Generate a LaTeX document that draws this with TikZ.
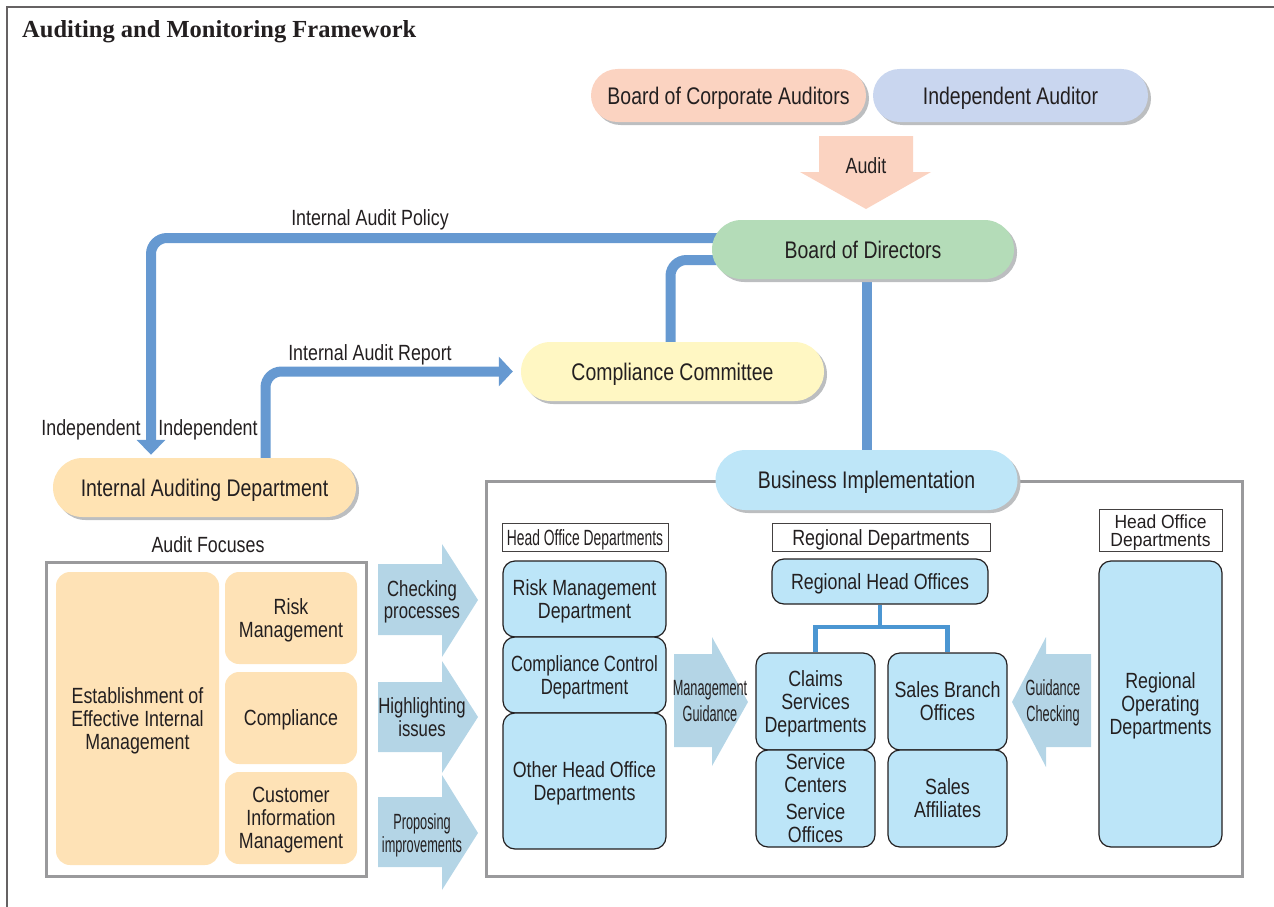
\documentclass[tikz,border=0pt]{standalone}
\usepackage{fontspec}
\setmainfont{Liberation Sans}[FakeStretch=0.81]
\newfontfamily\titlefont{Liberation Serif}
\newfontfamily\semifont{Liberation Sans}[FakeStretch=0.76]
\newfontfamily\narrowfont{Liberation Sans}[FakeStretch=0.58]
\newfontfamily\tagfont{Liberation Sans}[FakeStretch=0.63]
\newfontfamily\plainfont{Liberation Sans}[FakeStretch=0.92]
\usepackage{tikz}
\usetikzlibrary{positioning}
\usetikzlibrary{shapes.misc}
\usetikzlibrary{arrows.meta}
\usetikzlibrary{shadows}
\usetikzlibrary{backgrounds}

% several lines, caps centred on the node
\newcommand{\boxlines}[1]{\raisebox{-3.3pt}[\height][\depth]{\begin{tabular}{@{}c@{}}#1\end{tabular}}}

\definecolor{ink}{HTML}{231F20}
\definecolor{peach}{HTML}{FBD3C1}
\definecolor{lilac}{HTML}{C9D6EF}
\definecolor{mint}{HTML}{B4DCB8}
\definecolor{lemon}{HTML}{FFF7C3}
\definecolor{apricot}{HTML}{FFE3B3}
\definecolor{sky}{HTML}{BEE6F8}
\definecolor{boxblue}{HTML}{BCE5F8}
\definecolor{focusfill}{HTML}{FEE2B6}
\definecolor{pale}{HTML}{B4D5E6}
\definecolor{linkblue}{HTML}{6699D1}
\definecolor{treeblue}{HTML}{4B96D2}
\definecolor{framegray}{HTML}{9A9A9C}
\definecolor{shade}{HTML}{BCBEC0}

\tikzset{
  % struts so that the caps sit in the middle of a node
  cap24/.style = {execute at begin node={\rule{0pt}{23pt}}, execute at end node={\rule[-6pt]{0pt}{6pt}}},
  cap22/.style = {execute at begin node={\rule{0pt}{22pt}}, execute at end node={\rule[-6.3pt]{0pt}{6.3pt}}},
  pill/.style = {rounded rectangle, minimum height=59pt, inner sep=0pt, text=ink, cap24,
    font=\fontsize{24}{26}\selectfont,
    drop shadow={shadow xshift=3pt, shadow yshift=-3pt, fill=shade, opacity=1}},
  dept/.style = {draw=ink, line width=1.2pt, fill=boxblue, rounded corners=12pt, cap22,
    inner sep=0pt, align=center, text=ink, font=\fontsize{22}{23}\selectfont},
  focus/.style = {fill=focusfill, rounded corners=14pt, inner sep=0pt, align=center, cap22,
    text=ink, font=\fontsize{22}{23}\selectfont},
  tag/.style = {draw=ink!85, line width=1pt, fill=white, inner sep=0pt, align=center, cap22,
    text=ink, font=\fontsize{22}{23}\selectfont},
  lbl/.style = {inner sep=0pt, align=center, text=ink, cap22, font=\fontsize{22}{23}\selectfont},
  link/.style = {line width=10pt, draw=linkblue, rounded corners=16pt},
  tree/.style = {line width=4.5pt, draw=treeblue},
  frame/.style = {draw=framegray, line width=3pt},
}

\begin{document}
\begin{tikzpicture}[x=1pt, y=-1pt]
    \useasboundingbox (0,0) rectangle (1274,907);
    \draw[ink!70, line width=1.5pt] (7,907) -- (7,7) -- (1274,7);
    \node[anchor=base west, inner sep=0pt, text=ink, font={\titlefont\bfseries\fontsize{24.5}{26}\selectfont}] (title) at (22,38) {Auditing and Monitoring Framework};

    % frames
    \draw[frame] (46.5,562.5) rectangle (366.5,876.5);
    \draw[frame] (486.5,481.5) rectangle (1242.5,876.5);

    % top of the chart
    \node[pill, fill=peach, minimum width=275pt, minimum height=53pt] (bca) at (728.5,95.5) {Board of Corporate Auditors};
    \node[pill, fill=lilac, minimum width=275pt, minimum height=53pt] (ia) at (1010.5,95.5) {Independent Auditor};
    \fill[peach] (819,136) -- (913,136) -- (913,172) -- (931,172) -- (866,209) -- (800,172) -- (819,172) -- cycle;
    \node[lbl] (audit) at (866,166) {Audit};
    \node[pill, fill=mint, minimum width=302pt] (bod) at (863,249.5) {Board of Directors};
    \node[pill, fill=lemon, minimum width=303pt] (cc) at (672.5,371.5) {Compliance Committee};
    \node[pill, fill=apricot, minimum width=303pt] (iad) at (204.5,487.5) {Internal Auditing Department};
    \node[pill, fill=sky, minimum width=302pt, minimum height=60pt] (bi) at (866.5,480) {Business Implementation};

    \node[lbl] (policy) at (370,218) {Internal Audit Policy};
    \node[lbl] (report) at (370,353) {Internal Audit Report};
    \node[lbl] (indl) at (91,428) {Independent};
    \node[lbl] (indr) at (208,428) {Independent};

    % audit focuses
    \node[lbl] (focuses) at (208,545) {Audit Focuses};
    \node[focus, minimum width=163pt, minimum height=293pt] (eim) at (137.5,718.5) {\boxlines{Establishment of\\Effective Internal\\Management}};
    \node[focus, minimum width=132pt, minimum height=92pt] (rm) at (291,618) {\boxlines{Risk\\Management}};
    \node[focus, minimum width=132pt, minimum height=92pt] (comp) at (291,718) {Compliance};
    \node[focus, minimum width=132pt, minimum height=92pt] (cim) at (291,818) {\boxlines{Customer\\Information\\Management}};

    \fill[pale] (378,564) -- (442,564) -- (442,544) -- (478,600) -- (442,657) -- (442,635) -- (378,635) -- cycle;
    \fill[pale] (378,682) -- (442,682) -- (442,661) -- (478,717) -- (442,773) -- (442,752) -- (378,752) -- cycle;
    \fill[pale] (378,797) -- (442,797) -- (442,775) -- (478,833) -- (442,890) -- (442,867) -- (378,867) -- cycle;
    \node[lbl, font=\semifont\fontsize{22}{22}\selectfont] (check) at (422,600) {\boxlines{Checking\\processes}};
    \node[lbl, font=\semifont\fontsize{22}{23}\selectfont] (highl) at (422,717.5) {\boxlines{Highlighting\\issues}};
    \node[lbl, font=\narrowfont\fontsize{22}{23}\selectfont] (propose) at (422,833.5) {\boxlines{Proposing\\improvements}};

    % head office departments
    \node[tag, font=\tagfont\fontsize{22}{23}\selectfont, minimum width=166pt, minimum height=27pt] (hodl) at (585,537.5) {Head Office Departments};
    \node[dept, minimum width=163pt, minimum height=76pt] (rmd) at (584.5,599) {\boxlines{Risk Management\\Department}};
    \node[dept, font=\semifont\fontsize{22}{23}\selectfont, minimum width=163pt, minimum height=76pt] (ccd) at (584.5,675) {\boxlines{Compliance Control\\Department}};
    \node[dept, minimum width=163pt, minimum height=136pt] (ohd) at (584.5,781) {\boxlines{Other Head Office\\Departments}};

    \fill[pale] (674,654) -- (712,654) -- (712,637) -- (748,702) -- (712,766) -- (712,747) -- (674,747) -- cycle;
    \node[lbl, font=\narrowfont\fontsize{22}{26}\selectfont] (mguide) at (710,699.5) {\boxlines{Management\\Guidance}};

    % regional departments
    \node[tag, minimum width=218pt, minimum height=27pt] (regl) at (881,537.5) {Regional Departments};
    \node[dept, minimum width=216pt, minimum height=45pt] (rho) at (880,581.5) {Regional Head Offices};
    \node[dept, minimum width=119pt, minimum height=97pt] (csd) at (815.5,701.5) {\boxlines{Claims\\Services\\Departments}};
    \node[dept, minimum width=119pt, minimum height=97pt] (sco) at (815.5,798.5) {\boxlines{Service\\Centers\\[4pt]Service\\Offices}};
    \node[dept, minimum width=119pt, minimum height=97pt] (sbo) at (947.5,701.5) {\boxlines{Sales Branch\\Offices}};
    \node[dept, minimum width=119pt, minimum height=97pt] (saf) at (947.5,798.5) {\boxlines{Sales\\Affiliates}};
    \coordinate (fork) at (880,627);

    \fill[pale] (1091,654) -- (1046,654) -- (1046,637) -- (1012,702) -- (1046,767) -- (1046,747) -- (1091,747) -- cycle;
    \node[lbl, font=\narrowfont\fontsize{22}{26}\selectfont] (gcheck) at (1053,699.5) {\boxlines{Guidance\\Checking}};

    \node[tag, font=\plainfont\fontsize{19}{17}\selectfont, minimum width=123pt, minimum height=42pt] (hodr) at (1160.5,530) {\boxlines{Head Office\\Departments}};
    \node[dept, minimum width=123pt, minimum height=286pt] (rod) at (1160.5,704) {\boxlines{Regional\\Operating\\Departments}};

    % connectors
    \begin{pgfonlayer}{background}
    \draw[link, -{Triangle[width=28pt,length=15pt]}] ([yshift=11.5pt]bod.center) -| ([xshift=-53.5pt,yshift=3pt]iad.north);
    \draw[link] ([yshift=-10.5pt]bod.center) -| ([xshift=-2pt]cc.north);
    \draw[link, -{Triangle[width=29pt,length=14pt]}] ([xshift=61pt]iad.north) |- ([xshift=-8pt]cc.west);
    \draw[link, rounded corners=0pt] (bod.center -| bi.north) -- (bi.north);
    \draw[tree] (rho.south) -- (fork);
    \draw[tree] (csd.north) |- (fork) -| (sbo.north);
    \end{pgfonlayer}
\end{tikzpicture}
\end{document}
